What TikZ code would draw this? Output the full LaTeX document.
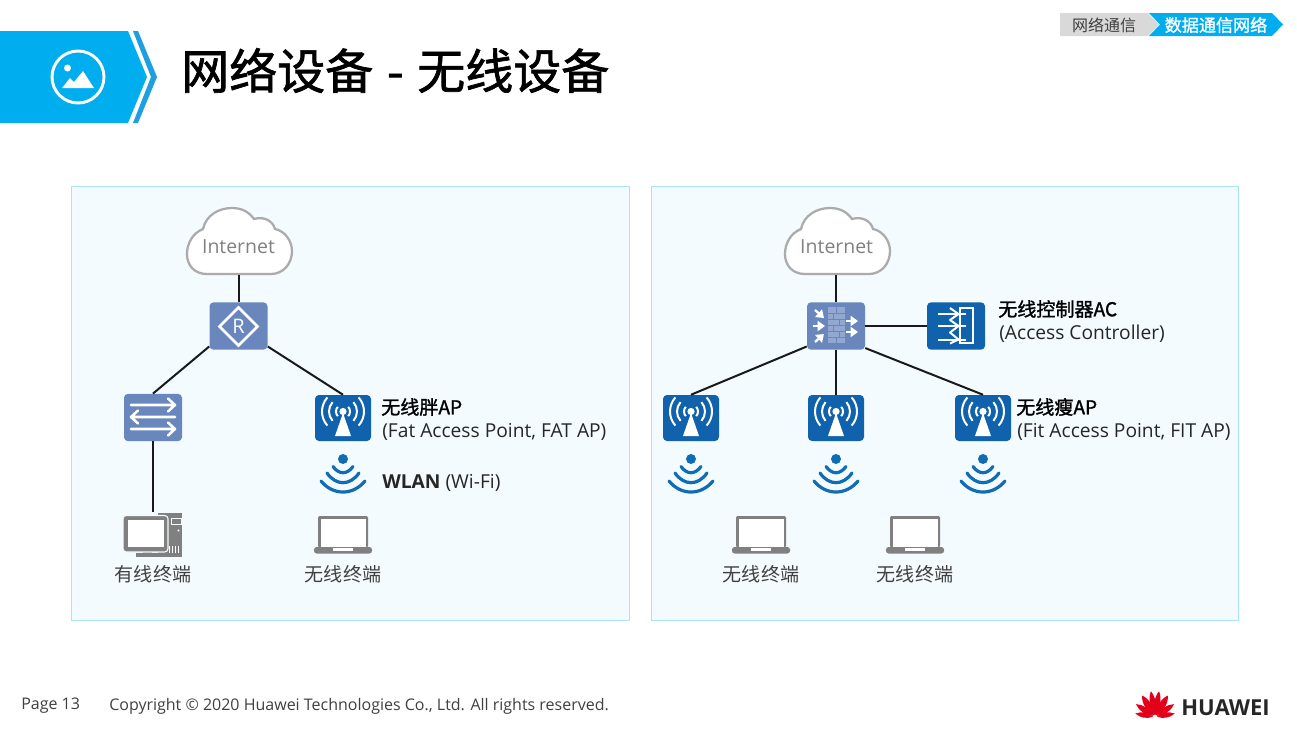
\documentclass[tikz,border=0pt]{standalone}
\usepackage{fontspec}
\setmainfont{Open Sans}
\newfontfamily\cjk{Noto Sans CJK SC}
\newfontfamily\cjkheavy{Noto Sans CJK SC}[FakeBold=1.4]
\usetikzlibrary{arrows.meta}
\definecolor{bannerblue}{HTML}{00AEEF}
\definecolor{stripblue}{HTML}{1E9FE0}
\definecolor{panelfill}{HTML}{F3FBFF}
\definecolor{panelline}{HTML}{A9E4F5}
\definecolor{slate}{HTML}{6A87BD}
\definecolor{brick}{HTML}{93A8D0}
\definecolor{apblue}{HTML}{0F62AB}
\definecolor{wifiblue}{HTML}{0F6CB5}
\definecolor{termgrey}{HTML}{808080}
\definecolor{cloudgrey}{HTML}{ABABAB}
\definecolor{huaweired}{HTML}{E3001B}
\begin{document}
\begin{tikzpicture}[x=0.75pt,y=-0.75pt]
	\tikzstyle{panel}=[fill=panelfill,draw=panelline,line width=0.7pt]
	\tikzstyle{link}=[black!90,line width=1.5pt]
	\tikzstyle{slatebox}=[fill=slate,rounded corners=3pt,minimum width=43.5pt,minimum height=35.5pt,inner sep=0pt]
	\tikzstyle{apbox}=[fill=apblue,rounded corners=3pt,minimum width=42pt,minimum height=34.5pt,inner sep=0pt]
	\tikzstyle{cloudbox}=[minimum width=78pt,minimum height=50pt,inner sep=0pt,text=black!50,font=\fontsize{14.6}{14.6}\selectfont]
	\tikzstyle{term}=[inner sep=0pt,text=black!75,font=\cjk\fontsize{14.3}{14.3}\selectfont]
	\tikzstyle{info}=[anchor=west,inner sep=0pt,text=black!85,font=\fontsize{14.4}{16}\selectfont]
	\tikzstyle{infobold}=[anchor=west,inner sep=0pt,text=black,font=\cjkheavy\fontsize{14.3}{16}\selectfont]
	\tikzstyle{foot}=[anchor=west,inner sep=0pt,text=black!75,font=\fontsize{12}{14}\selectfont]
	\tikzstyle{glyph}=[white,line width=1.9pt]
	\tikzset{
		cloudicon/.pic={
			\draw [fill=white,draw=cloudgrey,line width=1.7pt] (-32,33) .. controls (-45,33) and (-52,24) .. (-52,13) .. controls (-52,2) and (-46,-8) .. (-36,-12) .. controls (-33,-26) and (-20,-33) .. (-7,-33) .. controls (3,-33) and (10,-29) .. (15,-22) .. controls (25,-25) and (34,-20) .. (36,-12) .. controls (46,-10) and (53,0) .. (53,10) .. controls (53,23) and (44,33) .. (32,33) -- cycle;
		},
		routericon/.pic={
			\draw [glyph] (0,-19) -- (19,0) -- (0,19) -- (-19,0) -- cycle;
			\node [white,inner sep=0pt,font=\fontsize{15}{15}\selectfont] (-name) at (0,0) {R};
		},
		switchicon/.pic={
			\foreach \rowy/\tipx/\sgn in {-12/22/1,0/-22/-1,12/22/1}
				\draw [glyph,line cap=round,line join=round] (-\tipx,\rowy) -- (\tipx,\rowy) (\tipx-\sgn*7,\rowy-6.5) -- (\tipx,\rowy) -- (\tipx-\sgn*7,\rowy+6.5);
		},
		apicon/.pic={
			\fill [white] (0,-6.5) circle (3.6);
			\fill [white] (0,-5) -- (8,18) -- (-8,18) -- cycle;
			\foreach \rad in {7,14,21} {
				\draw [white,line width=1.5pt] ([shift={(-42:\rad)}]0,-6.5) arc [start angle=-42,end angle=42,radius=\rad];
				\draw [white,line width=1.5pt] ([shift={(138:\rad)}]0,-6.5) arc [start angle=138,end angle=222,radius=\rad];
			}
		},
		wifiicon/.pic={
			\fill [wifiblue] (0,0) circle (5);
			\draw [wifiblue,line width=2.4pt,line cap=round] (-10,7.5) .. controls (-4,15.8) and (4,15.8) .. (10,7.5);
			\draw [wifiblue,line width=2.4pt,line cap=round] (-16,14) .. controls (-7,26.9) and (7,26.9) .. (16,14);
			\draw [wifiblue,line width=2.4pt,line cap=round] (-22,22) .. controls (-10,36.7) and (10,36.7) .. (22,22);
		},
		laptopicon/.pic={
			\fill [termgrey,rounded corners=1pt] (-25,-18.5) rectangle (25,13);
			\fill [white] (-22.5,-16) rectangle (22.5,12);
			\fill [termgrey,rounded corners=2pt] (-29,12.5) rectangle (29,19);
			\fill [white] (-10,13.5) rectangle (10,16);
		},
		pcicon/.pic={
			\fill [termgrey] (5,-22) rectangle (29,22);
			\draw [panelfill,line width=0.6pt] (18,-16) rectangle (28,-10);
			\fill [white] (25.5,-4) circle (1.2);
			\foreach \ventx in {16,19,22,25}
				\fill [white] (\ventx,11) rectangle +(1.2,7);
			\fill [termgrey] (-17,18) rectangle (6,22.5);
			\fill [termgrey] (-10,14) rectangle (-1,19);
			\draw [fill=termgrey,draw=panelfill,line width=0.8pt,rounded corners=2.5pt] (-30,-19) rectangle (15,17.5);
			\fill [white] (-25,-15) rectangle (11,12);
		},
		firewallicon/.pic={
			\fill [brick] (-8.5,-19) rectangle (9,17);
			\foreach \rowy in {-13,-7,-1,5,11}
				\draw [slate,line width=0.5pt] (-8.5,\rowy) -- (9,\rowy);
			\foreach \rowy/\jointx in {-19/0,-13/-3,-7/3,-1/-3,5/3,11/0}
				\draw [slate,line width=0.5pt] (\jointx,\rowy) -- (\jointx,\rowy+6);
			\foreach \fromx/\fromy/\tox/\toy in {-21/-16/-12/-8,-23/0/-11/0,-21/16/-12/8,10/-5/22/-5,10/6/22/6}
				\draw [white,line width=1.7pt,-{Triangle[length=5.5pt,width=7.5pt]}] (\fromx,\fromy) -- (\tox,\toy);
		},
		acicon/.pic={
			\draw [white,line width=1.5pt] (4.5,-18.5) rectangle (17,16.5);
			\foreach \rowy in {-12.5,-0.5,13}
				\draw [white,line width=1.5pt] (-18,\rowy) -- (10,\rowy);
			\draw [white,line width=1.5pt,line join=round] (-5.5,-18.5) -- (3,-12.5) -- (-5.5,-6.5) -- (3,-0.5) -- (-5.5,6) -- (3,13) -- (-5.5,17);
		},
		petalicon/.pic={
			\foreach \ang/\len/\wid in {-80/20/3.5,-56/23/4,-31/25/4.5,-9/26/4,9/26/4,31/25/4.5,56/23/4,80/20/3.5}
				\fill [huaweired,rotate=\ang] (0,-2) .. controls (-\wid,-8) and (-\wid,-\len+6) .. (0,-\len) .. controls (\wid,-\len+6) and (\wid,-8) .. (0,-2);
		}
	}
	\useasboundingbox (0,0) rectangle (1297,729);
	\fill [white] (0,0) rectangle (1297,729);
	\fill [bannerblue] (0,31) -- (128,31) -- (147,77) -- (128,123) -- (0,123) -- cycle;
	\fill [stripblue] (133,31) -- (138,31) -- (157,77) -- (138,123) -- (133,123) -- (151,77) -- cycle;
	\draw [white,line width=2.2pt] (78,77) circle (26);
	\fill [white] (67.5,68) circle (3.5);
	\fill [white] (62,88) -- (70,78) -- (74,82) -- (83,71) -- (94,88) -- cycle;
	\node [anchor=west,inner sep=0pt,font=\cjkheavy\fontsize{36}{36}\selectfont] (title) at (181,70.5) {网络设备\hspace{2.2pt} - \hspace{2.2pt}无线设备};
	\fill [black!15] (1060,13) -- (1148,13) -- (1159,24.5) -- (1148,36) -- (1060,36) -- cycle;
	\fill [bannerblue] (1149,13) -- (1272,13) -- (1283,24.5) -- (1272,36) -- (1149,36) -- (1160,24.5) -- cycle;
	\node [inner sep=0pt,text=black!75,font=\cjk\fontsize{12}{12}\selectfont] (tabgrey) at (1104,25) {网络通信};
	\node [inner sep=0pt,text=white,font=\cjkheavy\fontsize{12.8}{12.8}\selectfont] (tabblue) at (1216,25) {数据通信网络};
	\draw [panel] (71,186) rectangle (629,620);
	\draw [panel] (651,186) rectangle (1238,620);
	\pic at (239,241) {cloudicon};
	\pic at (837,241) {cloudicon};
	\node [cloudbox] (cloudL) at (238.5,241) {\raisebox{-9pt}[0pt][0pt]{Internet}};
	\node [cloudbox] (cloudR) at (836,241) {\raisebox{-9pt}[0pt][0pt]{\hspace{1pt}Internet}};
	\node [slatebox] (router) at (238.5,326) {};
	\node [slatebox] (switch) at (153,417.5) {};
	\node [apbox] (fatap) at (343,418) {};
	\node [inner sep=0pt,minimum width=44pt,minimum height=33pt] (pc) at (153,534.5) {};
	\node [inner sep=0pt,minimum width=44pt] (laptopL) at (343,534.5) {};
	\node [slatebox] (firewall) at (836,326) {};
	\node [slatebox,fill=apblue] (ctrl) at (956,326) {};
	\node [apbox] (fitapA) at (691,418) {};
	\node [apbox] (fitapB) at (836,418) {};
	\node [apbox] (fitapC) at (983,418) {};
	\draw [link] (cloudL.south) -- (router.north);
	\draw [link] (router.215) -- (switch.north);
	\draw [link] (router.325) -- (fatap.north);
	\draw [link] (switch.south) -- (pc.north);
	\draw [link] (cloudR.south) -- (firewall.north);
	\draw [link] (firewall.east) -- (ctrl.west);
	\draw [link] (firewall.215) -- (fitapA.north);
	\draw [link] (firewall.south) -- (fitapB.north);
	\draw [link] (firewall.323) -- (fitapC.north);
	\pic at (238.5,326.5) {routericon};
	\pic at (153,417) {switchicon};
	\pic at (343,418) {apicon};
	\pic at (691,418) {apicon};
	\pic at (836,418) {apicon};
	\pic at (983,418) {apicon};
	\pic at (836,326) {firewallicon};
	\pic at (955.5,326.5) {acicon};
	\pic at (343,459) {wifiicon};
	\pic at (691,459) {wifiicon};
	\pic at (836,459) {wifiicon};
	\pic at (983,459) {wifiicon};
	\pic at (153,534.5) {pcicon};
	\pic at (343,534.5) {laptopicon};
	\pic at (761,534.5) {laptopicon};
	\pic at (915,534.5) {laptopicon};
	\node [term] (pclabel) at (153,574) {有线终端};
	\node [term] (laptopLlabel) at (343,574) {无线终端};
	\node [term] (laptopAlabel) at (761,574) {无线终端};
	\node [term] (laptopBlabel) at (915,574) {无线终端};
	\node [infobold] (fatname) at (381,407) {无线胖AP};
	\node [info] (fatfull) at (382,432) {(Fat Access Point, FAT AP)};
	\node [info] (wlan) at (382,483) {\textbf{WLAN} (Wi-Fi)};
	\node [infobold] (ctrlname) at (998,309) {无线控制器AC};
	\node [info] (ctrlfull) at (999,334) {(Access Controller)};
	\node [infobold] (fitname) at (1016,407) {无线瘦AP};
	\node [info] (fitfull) at (1017,432) {(Fit Access Point, FIT AP)};
	\node [foot] (page) at (21,706) {Page 13};
	\node [foot] (copyright) at (109,706) {Copyright © 2020 Huawei Technologies Co., Ltd. All rights reserved.};
	\pic at (1155,717) {petalicon};
	\node [anchor=west,inner sep=0pt,text=black!85,font=\bfseries\fontsize{16.5}{17}\selectfont] (brand) at (1181,708) {HUAWEI};
\end{tikzpicture}
\end{document}
